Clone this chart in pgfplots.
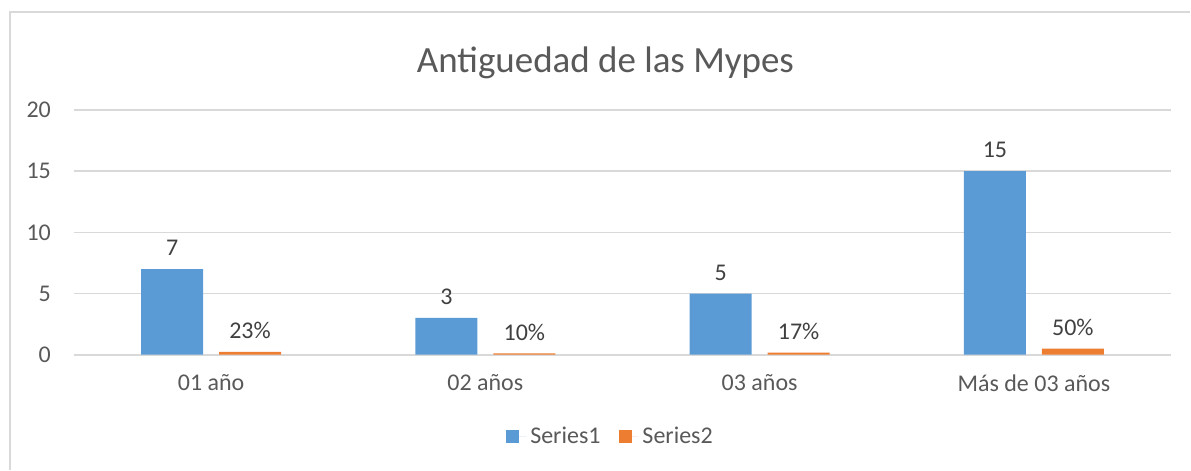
\documentclass[border=0pt]{standalone}
\usepackage{pgfplots}
\pgfplotsset{compat=1.18}
\usepackage{fontspec}
\setmainfont{Carlito}
\definecolor{sblue}{HTML}{5B9BD5}
\definecolor{sorange}{HTML}{ED7D31}
\definecolor{txt}{HTML}{595959}
\definecolor{lbl}{HTML}{404040}
\definecolor{gridc}{HTML}{D9D9D9}
\begin{document}
\begin{tikzpicture}
\path (0,0) rectangle (595.5pt,235pt);
\draw[gridc, line width=1pt] (5pt,0) -- (5pt,229pt) -- (595.5pt,229pt);
\node[txt, font=\fontsize{18.5}{20}\selectfont] at (303pt,203.5pt) {Antiguedad de las Mypes};
\begin{axis}[
  at={(37pt,57.5pt)}, anchor=south west,
  scale only axis, width=549pt, height=122.5pt,
  xmin=-0.5, xmax=3.5, ymin=0, ymax=20,
  ybar=8pt, bar width=31pt,
  xtick={0,1,2,3},
  xticklabels={01 año,02 años,03 años,Más de 03 años},
  ytick={0,5,10,15,20},
  major tick length=0pt,
  axis line style={draw=none},
  ymajorgrids, xmajorgrids=false, grid style={draw=gridc, line width=0.8pt},
  tick label style={txt, font=\fontsize{12}{14}\selectfont},
  /pgf/number format/assume math mode=true,
  yticklabel style={xshift=-8pt},
  xticklabel style={yshift=-6.5pt},
  nodes near coords={\pgfplotspointmeta},
  point meta=explicit symbolic,
  every node near coord/.append style={lbl, font=\fontsize{12}{14}\selectfont, yshift=3pt},
  legend style={at={(0.49,-0.335)}, anchor=center, draw=none, legend columns=2,
    font=\fontsize{12}{14}\selectfont, text=txt,
    /tikz/every even column/.append style={column sep=7pt}},
  legend image code/.code={\fill[#1] (0pt,-3.3pt) rectangle (6.6pt,3.3pt);\path (0pt,0pt) -- (10pt,0pt);},
]
\addplot[fill=sblue, draw=none] coordinates {(0,7) [7] (1,3) [3] (2,5) [5] (3,15) [15]};
\addplot[fill=sorange, draw=none] coordinates {(0,0.23) [23\%] (1,0.10) [10\%] (2,0.17) [17\%] (3,0.5) [50\%]};
\legend{Series1,Series2}
\end{axis}
\end{tikzpicture}
\end{document}
